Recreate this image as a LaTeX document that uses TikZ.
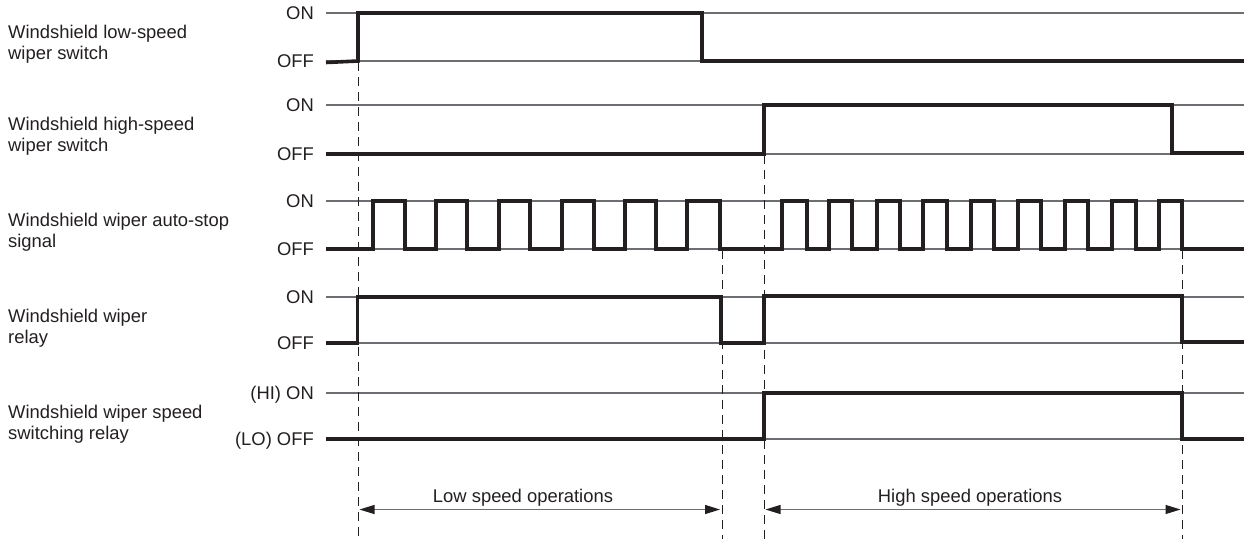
\documentclass[tikz,border=0pt]{standalone}
\usepackage{fontspec}
\setmainfont{Liberation Sans}
\usetikzlibrary{arrows.meta}
\definecolor{ink}{HTML}{231F20}
\definecolor{rulegray}{HTML}{6D6E71}
\begin{document}
\begin{tikzpicture}[x=1pt,y=-1pt,
  sigtext/.style={font=\fontsize{18.4}{21.5}\selectfont, text=ink, inner sep=0pt},
  rowlabel/.style={sigtext, align=left, anchor=north west},
  lvllabel/.style={sigtext, anchor=base east},
  oplabel/.style={sigtext, anchor=base},
  refline/.style={draw=rulegray, line width=1.2pt},
  sigline/.style={draw=ink, line width=3.6pt},
  guide/.style={draw=ink, line width=0.9pt, dash pattern=on 9pt off 6pt},
  spanarrow/.style={draw=rulegray, line width=1.2pt,
    {Triangle[length=15pt,width=9pt,color=ink]}-{Triangle[length=15pt,width=9pt,color=ink]}}
]
\useasboundingbox (0,0) rectangle (1244,539);

% row labels
\node[rowlabel] (r1) at (8,24.5) {Windshield low-speed\\wiper switch};
\node[rowlabel] (r2) at (8,116.5) {Windshield high-speed\\wiper switch};
\node[rowlabel] (r3) at (8,212.5) {Windshield wiper auto-stop\\signal};
\node[rowlabel] (r4) at (8,308.5) {Windshield wiper\\relay};
\node[rowlabel] (r5) at (8,404.5) {Windshield wiper speed\\switching relay};

% level labels
\node[lvllabel] (on1)  at (314,19.5)  {ON};
\node[lvllabel] (off1) at (314,67.5)  {OFF};
\node[lvllabel] (on2)  at (314,111.5) {ON};
\node[lvllabel] (off2) at (314,160.5) {OFF};
\node[lvllabel] (on3)  at (314,207.5) {ON};
\node[lvllabel] (off3) at (314,255.5) {OFF};
\node[lvllabel] (on4)  at (314,303.5) {ON};
\node[lvllabel] (off4) at (314,349.5) {OFF};
\node[lvllabel] (on5)  at (314,399.5) {(HI) ON};
\node[lvllabel] (off5) at (314,445.5) {(LO) OFF};

% reference levels
\foreach \yy in {13,61,105,154,201,249,297,343,393,439}
  \draw[refline] (326,\yy) -- (1244,\yy);

% time guides
\draw[guide] (358,62) -- (358,539);
\draw[guide] (722,250) -- (722,539);
\draw[guide] (764,155) -- (764,539);
\draw[guide] (1182,250) -- (1182,539);

% waveforms
\draw[sigline] (326,62.5) -- (358,61) |- (702,13) |- (1244,61);
\draw[sigline] (326,154) -| (764,105) -| (1172,153) -- (1244,153);
\draw[sigline] (326,249) -| (373,201) -| (405,249) -| (436,201) -| (467,249)
  -| (499,201) -| (530,249) -| (562,201) -| (594,249) -| (625,201) -| (656,249)
  -| (687,201) -| (720,249)
  -| (782,201) -| (807,249) -| (829,201) -| (852,249) -| (877,201) -| (900,249)
  -| (923,201) -| (947,249) -| (971,201) -| (994,249) -| (1018,201) -| (1041,249)
  -| (1065,201) -| (1088,249) -| (1112,201) -| (1136,249) -| (1159,201) -| (1182,249)
  -- (1244,249);
\draw[sigline] (326,343) -| (357.5,297) -| (721,343) -| (764,296) -| (1182,342) -- (1244,342);
\draw[sigline] (326,439) -| (764,393) -| (1182,439) -- (1244,439);

% operation spans
\coordinate (lowA) at (359.5,509.5);
\coordinate (lowB) at (720,509.5);
\coordinate (highA) at (765.5,509.5);
\coordinate (highB) at (1180.5,509.5);
\draw[spanarrow] (lowA) -- (lowB);
\draw[spanarrow] (highA) -- (highB);
\node[oplabel] (lowtxt) at (523,502) {Low speed operations};
\node[oplabel] (hightxt) at (970,502) {High speed operations};
\end{tikzpicture}
\end{document}
